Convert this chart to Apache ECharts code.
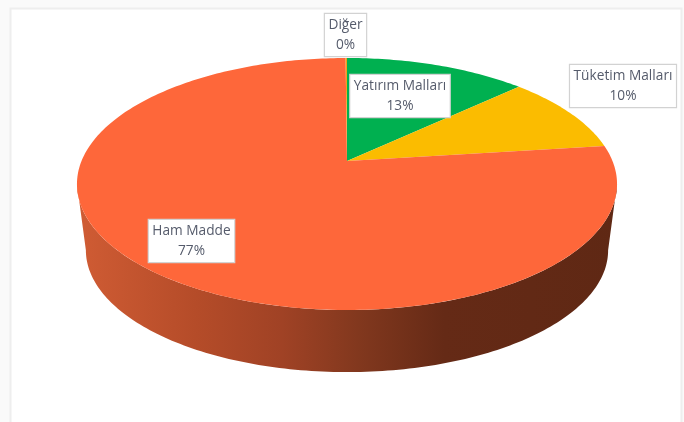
<!DOCTYPE html>
<html>
<head>
<meta charset="utf-8">
<style>html,body{margin:0;padding:0;background:#fafafa;overflow:hidden}#c{width:684px;height:422px;filter:blur(0.45px)}</style>
<script src="https://cdn.jsdelivr.net/npm/echarts@6/dist/echarts.min.js"></script>
</head>
<body>
<div id="c"></div>
<script>
// Data, clockwise from 12 o'clock
const categories = ['Yatırım Malları', 'Tüketim Malları', 'Ham Madde', 'Diğer'];
const values = [13, 10, 77, 0.1];
const sliceColors = ['#00B050', '#FBBC00', '#FE673A', '#F2A01E'];
// Label box centres
const labelCentres = [[400, 96], [623, 86], [191.5, 241], [345.5, 35]];

// Perspective projection of the pie disc
const cx = 347, apexY = 161, A = 265.5, B = 121.8, K = 0.1825;
const depthScale = 0.967, depthShift = 67;
function project(deg, depth) {
  const t = deg * Math.PI / 180, w = 1 + K * Math.cos(t);
  const s = depth ? depthScale : 1;
  return [cx + s * A * Math.sin(t) / w, apexY + (depth ? depthShift : 0) - s * B * Math.cos(t) / w];
}
const frontFrom = Math.acos(-K) * 180 / Math.PI, frontTo = 360 - frontFrom;
const total = values.reduce((a, b) => a + b, 0);

function arc(from, to, depth) {
  const pts = [], n = Math.max(2, Math.ceil(Math.abs(to - from)));
  for (let i = 0; i <= n; i++) pts.push(project(from + (to - from) * i / n, depth));
  return pts;
}
const wallFill = new echarts.graphic.LinearGradient(0, 0, 1, 0, [
  { offset: 0, color: '#D05C34' }, { offset: 0.22, color: '#B54C29' },
  { offset: 0.38, color: '#A04225' }, { offset: 0.52, color: '#82381E' },
  { offset: 0.68, color: '#652A16' }, { offset: 1, color: '#5F2814' }
]);

function renderSlice(params, api) {
  const i = params.dataIndex, v = api.value(0);
  let start = 0;
  for (let j = 0; j < i; j++) start += values[j] / total * 360;
  const end = start + v / total * 360;
  const children = [];
  const wFrom = Math.max(start, frontFrom), wTo = Math.min(end, frontTo);
  if (wTo > wFrom) {
    children.push({
      type: 'polygon', z2: 1, silent: true,
      shape: { points: arc(wFrom, wTo, 0).concat(arc(wTo, wFrom, 1)) },
      style: { fill: wallFill }
    });
  }
  children.push({
    type: 'polygon', z2: 2,
    shape: { points: [[cx, apexY]].concat(arc(start, end, 0)) },
    style: { fill: sliceColors[i] }
  });
  return { type: 'group', children };
}
function renderLabel(params, api) {
  const i = params.dataIndex, pct = Math.round(api.value(0) / total * 100);
  return {
    type: 'text', z2: 10, x: labelCentres[i][0], y: labelCentres[i][1],
    style: {
      text: categories[i] + '\n' + pct + '%',
      align: 'center', verticalAlign: 'middle',
      font: '13.7px "Open Sans"', lineHeight: 19.5,
      fill: '#555B6B', backgroundColor: '#FFFFFF',
      borderColor: '#D2D2D2', borderWidth: 1.2, padding: [1.5, 3.5, 1.5, 3.5]
    }
  };
}
const seriesData = categories.map((c, i) => ({ name: c, value: [values[i]] }));

const chart = echarts.init(document.getElementById('c'), null, { renderer: 'canvas' });
chart.setOption({
  animation: false,
  backgroundColor: '#FAFAFA',
  graphic: [{
    type: 'rect', z: -1, silent: true,
    shape: { x: 10.5, y: 8.5, width: 671, height: 430 },
    style: { fill: '#FFFFFF', stroke: '#EEEEEE', lineWidth: 2 }
  }],
  series: [
    { type: 'custom', coordinateSystem: 'none', renderItem: renderSlice, data: seriesData, z: 2 },
    { type: 'custom', coordinateSystem: 'none', renderItem: renderLabel, data: seriesData, z: 3 }
  ]
});
</script>
</body>
</html>
